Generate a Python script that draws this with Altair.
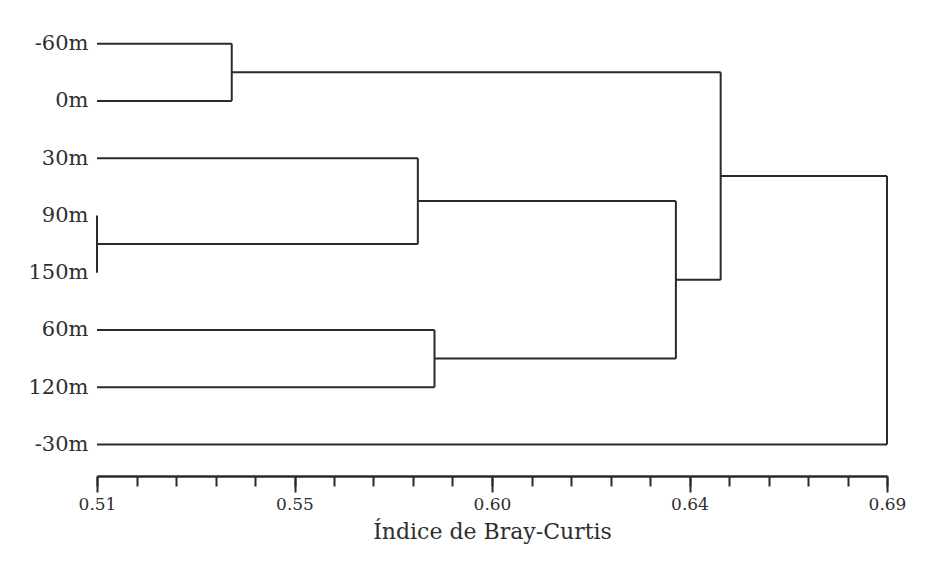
import altair as alt
import pandas as pd

# ---- data ----
leaves = ["-60m", "0m", "30m", "90m", "150m", "60m", "120m", "-30m"]

# merges in order; new cluster i is named "c{i+1}"
merge_left = ["90m", "-60m", "30m", "60m", "c3", "c2", "c6"]
merge_right = ["150m", "0m", "c1", "120m", "c4", "c5", "-30m"]
merge_height = [0.510, 0.5407, 0.5831, 0.5869, 0.6419, 0.6521, 0.690]

major_ticks = [0.51, 0.555, 0.60, 0.645, 0.69]
major_labels = ["0.51", "0.55", "0.60", "0.64", "0.69"]
minor_ticks = [0.51, 0.519, 0.528, 0.537, 0.546, 0.555, 0.564, 0.573, 0.582,
               0.591, 0.60, 0.609, 0.618, 0.627, 0.636, 0.645, 0.654, 0.663,
               0.672, 0.681, 0.69]

x_min, x_max = 0.51, 0.69

# ---- build dendrogram segments ----
pos = {name: (x_min, i) for i, name in enumerate(leaves)}
rows = []
for k, (a, b, h) in enumerate(zip(merge_left, merge_right, merge_height)):
    xa, ya = pos[a]
    xb, yb = pos[b]
    rows.append(dict(x=xa, x2=h, y=ya, y2=ya))
    rows.append(dict(x=xb, x2=h, y=yb, y2=yb))
    rows.append(dict(x=h, x2=h, y=ya, y2=yb))
    pos[f"c{k+1}"] = (h, (ya + yb) / 2)
seg = pd.DataFrame(rows)

FONT = "DejaVu Serif"
INK = "#2a2a2a"
TXT = "#2e2e2e"

xscale = alt.Scale(domain=[x_min, x_max], nice=False, zero=False)
yscale = alt.Scale(domain=[-0.5, 7.55], reverse=True, nice=False, zero=False)

label_expr = ""
for v, lab in zip(major_ticks, major_labels):
    label_expr += f"datum.value < {v + 0.004} ? '{lab}' : "
label_expr += "''"

leaf_expr = ""
for i, name in enumerate(leaves):
    leaf_expr += f"datum.value == {i} ? '{name}' : "
leaf_expr += "''"

major_axis = alt.Axis(
    values=major_ticks, labelExpr=label_expr, tickSize=16, tickWidth=2,
    tickColor=INK, domainColor=INK, domainWidth=2, grid=False,
    labelFont=FONT, labelFontSize=17, labelColor=TXT, labelPadding=4,
    title="Índice de Bray-Curtis", titleFont=FONT, titleFontSize=22,
    titleFontWeight="normal", titleColor=TXT, titlePadding=9,
    orient="bottom", labelFlush=False,
)
minor_axis = alt.Axis(
    values=minor_ticks, labels=False, tickSize=10, tickWidth=2,
    tickColor=INK, domainColor=INK, domainWidth=2, grid=False,
    title=None, orient="bottom",
)
y_axis = alt.Axis(
    values=list(range(len(leaves))), labelExpr=leaf_expr, ticks=False,
    domain=False, grid=False, labelFont=FONT, labelFontSize=21,
    labelColor=TXT, labelPadding=9, title=None,
)

lines = alt.Chart(seg).mark_rule(stroke=INK, strokeWidth=2).encode(
    x=alt.X("x:Q", scale=xscale, axis=major_axis),
    x2="x2:Q",
    y=alt.Y("y:Q", scale=yscale, axis=y_axis),
    y2="y2:Q",
)
minor = alt.Chart(seg).mark_point(opacity=0).encode(
    x=alt.X("x:Q", scale=xscale, axis=minor_axis),
    y=alt.Y("y:Q", scale=yscale, axis=y_axis),
)

chart = (
    alt.layer(lines, minor)
    .resolve_axis(x="independent")
    .properties(
        width=790, height=461,
        autosize=alt.AutoSizeParams(type="none"),
        padding={"left": 89, "top": 7, "right": 30, "bottom": 80},
        background="white",
    )
    .configure_view(stroke=None)
)

chart.save("out.html", embed_options={"renderer": "svg", "actions": False})
